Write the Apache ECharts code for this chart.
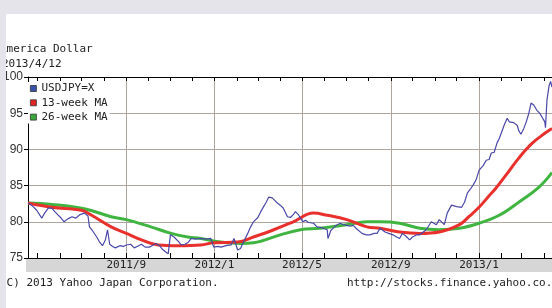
<!DOCTYPE html>
<html>
<head>
<meta charset="utf-8">
<script src="https://cdn.jsdelivr.net/npm/echarts@6/dist/echarts.min.js"></script>
<style>
  html, body { margin: 0; padding: 0; background: #fff; }
  #chart { position: absolute; left: 0; top: 0; width: 552px; height: 308px; background: #fff; }
  .strip { position: absolute; background: #e4e4ea; z-index: 5; }
</style>
</head>
<body>
<div id="chart"></div>
<div class="strip" style="left:0;top:0;width:552px;height:14px"></div>
<div class="strip" style="left:0;top:0;width:6px;height:308px"></div>
<script>
const titleText = 'America Dollar';
const dateText = '2013/4/12';
const copyText = '(C) 2013 Yahoo Japan Corporation.';
const urlText = 'http://stocks.finance.yahoo.co.jp/';
const seriesNames = ['USDJPY=X', '13-week MA', '26-week MA'];
const xLabels = ['2011/9', '2012/1', '2012/5', '2012/9', '2013/1'];
const xStart = '2011-04-18';
const xEnd = '2013-04-12';

// USDJPY=X
const priceDates = [
  '2011-04-18','2011-04-24','2011-04-30','2011-05-07','2011-05-11','2011-05-16','2011-05-21','2011-05-25',
  '2011-05-29','2011-06-02','2011-06-07','2011-06-12','2011-06-18','2011-06-23','2011-06-29','2011-07-05',
  '2011-07-10','2011-07-12','2011-07-16','2011-07-22','2011-07-26','2011-07-30','2011-08-03','2011-08-06',
  '2011-08-09','2011-08-13','2011-08-17','2011-08-23','2011-08-28','2011-09-01','2011-09-07','2011-09-12',
  '2011-09-18','2011-09-22','2011-09-27','2011-10-03','2011-10-08','2011-10-12','2011-10-17','2011-10-21',
  '2011-10-26','2011-10-29','2011-11-01','2011-11-06','2011-11-12','2011-11-16','2011-11-21','2011-11-25',
  '2011-11-30','2011-12-06','2011-12-13','2011-12-20','2011-12-27','2011-12-31','2012-01-06','2012-01-10',
  '2012-01-17','2012-01-24','2012-01-28','2012-02-02','2012-02-06','2012-02-12','2012-02-16','2012-02-20',
  '2012-02-24','2012-03-01','2012-03-05','2012-03-09','2012-03-12','2012-03-16','2012-03-21','2012-03-25',
  '2012-03-28','2012-04-01','2012-04-05','2012-04-11','2012-04-15','2012-04-19','2012-04-22','2012-04-26',
  '2012-05-02','2012-05-06','2012-05-10','2012-05-17','2012-05-22','2012-05-28','2012-06-02','2012-06-05',
  '2012-06-06','2012-06-10','2012-06-13','2012-06-17','2012-06-23','2012-06-28','2012-07-02','2012-07-07',
  '2012-07-11','2012-07-16','2012-07-23','2012-07-29','2012-08-03','2012-08-09','2012-08-13','2012-08-17',
  '2012-08-24','2012-08-29','2012-09-04','2012-09-09','2012-09-13','2012-09-17','2012-09-22','2012-09-27',
  '2012-10-01','2012-10-07','2012-10-11','2012-10-16','2012-10-20','2012-10-27','2012-11-03','2012-11-07',
  '2012-11-14','2012-11-18','2012-11-24','2012-12-01','2012-12-08','2012-12-12','2012-12-16','2012-12-20',
  '2012-12-24','2012-12-28','2013-01-01','2013-01-07','2013-01-11','2013-01-15','2013-01-18','2013-01-22',
  '2013-01-26','2013-01-29','2013-02-01','2013-02-05','2013-02-09','2013-02-12','2013-02-14','2013-02-18',
  '2013-02-23','2013-02-25','2013-02-28','2013-03-04','2013-03-07','2013-03-11','2013-03-14','2013-03-18',
  '2013-03-22','2013-03-26','2013-03-29','2013-04-02','2013-04-03','2013-04-05','2013-04-08','2013-04-10',
  '2013-04-12'
];
const priceValues = [
  82.6, 82.2, 81.6, 80.5, 81.2, 81.9, 81.9, 81.4,
  81.0, 80.6, 80.0, 80.4, 80.7, 80.5, 81.0, 81.2,
  80.8, 79.3, 78.8, 77.9, 77.2, 76.7, 77.5, 78.9,
  76.9, 76.6, 76.4, 76.7, 76.6, 76.8, 76.9, 76.4,
  76.7, 76.9, 76.5, 76.5, 76.8, 77.0, 76.7, 76.2,
  75.8, 75.6, 78.2, 77.9, 77.3, 76.8, 76.9, 77.1,
  77.7, 77.6, 77.7, 77.6, 77.7, 76.5, 76.6, 76.5,
  76.7, 76.8, 77.7, 76.1, 76.3, 77.6, 78.4, 79.3,
  80.0, 80.6, 81.4, 82.1, 82.6, 83.4, 83.3, 82.9,
  82.6, 82.3, 81.9, 80.7, 80.6, 81.0, 81.4, 81.0,
  80.0, 80.2, 79.9, 79.8, 79.3, 79.2, 79.0, 78.9,
  77.7, 78.8, 79.1, 79.5, 79.8, 79.6, 79.5, 79.4,
  79.5, 79.0, 78.4, 78.2, 78.2, 78.4, 78.4, 79.1,
  78.6, 78.4, 78.2, 77.9, 77.7, 78.4, 78.0, 77.5,
  77.9, 78.2, 78.2, 78.6, 78.9, 80.0, 79.6, 80.3,
  79.6, 81.2, 82.3, 82.1, 82.0, 82.7, 84.0, 84.5,
  85.1, 85.8, 87.1, 87.8, 88.5, 88.6, 89.5, 89.6,
  90.9, 91.5, 92.3, 93.4, 94.3, 93.8, 93.6, 93.7,
  93.3, 92.6, 92.1, 92.9, 93.7, 95.0, 96.4, 96.1,
  95.4, 95.0, 94.5, 93.8, 93.0, 96.8, 98.8, 99.4,
  98.6
];

// 13-week MA
const ma13Dates = [
  '2011-04-18','2011-05-21','2011-07-01','2011-07-15','2011-08-11','2011-09-01','2011-09-22','2011-10-15',
  '2011-11-12','2011-12-13','2011-12-31','2012-02-02','2012-02-24','2012-03-23','2012-04-19','2012-05-17',
  '2012-06-05','2012-07-02','2012-07-30','2012-08-17','2012-09-13','2012-10-11','2012-11-07','2012-12-05',
  '2012-12-18','2013-01-01','2013-01-15','2013-01-24','2013-02-07','2013-02-25','2013-03-15','2013-04-03',
  '2013-04-12'
];
const ma13Values = [
  82.6, 82.0, 81.6, 80.9, 79.3, 78.4, 77.5, 76.8,
  76.7, 76.8, 77.1, 77.2, 77.9, 78.9, 80.0, 81.2,
  80.9, 80.3, 79.3, 79.1, 78.6, 78.4, 78.6, 79.6,
  80.7, 82.0, 83.6, 84.6, 86.4, 88.8, 90.8, 92.3,
  92.9
];

// 26-week MA
const ma26Dates = [
  '2011-04-18','2011-05-21','2011-07-05','2011-08-11','2011-09-01','2011-10-05','2011-11-02','2011-11-25',
  '2011-12-13','2012-01-10','2012-02-06','2012-02-24','2012-04-01','2012-04-29','2012-05-26','2012-07-02',
  '2012-07-30','2012-08-17','2012-09-13','2012-10-11','2012-11-07','2012-12-05','2013-01-01','2013-01-29',
  '2013-02-25','2013-03-25','2013-04-12'
];
const ma26Values = [
  82.6, 82.4, 81.8, 80.7, 80.3, 79.3, 78.4, 77.9,
  77.7, 77.2, 77.0, 77.1, 78.2, 78.9, 79.1, 79.6,
  80.0, 80.0, 79.8, 79.1, 78.9, 79.1, 79.8, 80.9,
  82.7, 84.8, 86.8
];

const mono = '"DejaVu Sans Mono", "Liberation Mono", monospace';

function toTime(s) {
  const p = s.split(/[-\/]/).map(Number);
  return Date.UTC(p[0], p[1] - 1, p[2] || 1);
}
function pairs(dates, values) {
  return dates.map((d, i) => [toTime(d), values[i]]);
}

// a tick at the start of every month, a grid line at each labelled month
const monthTicks = [];
for (let i = 4; i <= 27; i++) monthTicks.push(Date.UTC(2011, i, 1));
const labelTicks = xLabels.map(toTime);

const xMin = toTime(xStart);
const xMax = toTime(xEnd);

let myChart = echarts.init(document.getElementById('chart'));
let option = {
  animation: false,
  title: [
    {
      text: titleText,
      left: 0,
      top: 43,
      padding: 0,
      textStyle: { fontFamily: mono, fontSize: 11, fontWeight: 'normal', color: '#222', lineHeight: 13 },
    },
    {
      text: dateText,
      left: 2,
      top: 58,
      padding: 0,
      textStyle: { fontFamily: mono, fontSize: 11, fontWeight: 'normal', color: '#222', lineHeight: 13 },
    },
  ],
  legend: {
    orient: 'vertical',
    left: 28,
    top: 82,
    padding: [0, 2],
    itemGap: 1.3,
    itemWidth: 6,
    itemHeight: 6,
    icon: 'rect',
    backgroundColor: '#fff',
    itemStyle: { borderColor: '#333', borderWidth: 0.8 },
    textStyle: { fontFamily: mono, fontSize: 11, color: '#222', lineHeight: 13 },
    data: seriesNames,
  },
  grid: { left: 26, top: 77, width: 528, height: 181 },
  xAxis: [
    {
      type: 'value',
      min: xMin,
      max: xMax,
      position: 'bottom',
      axisLine: { show: true, lineStyle: { color: '#000', width: 1 } },
      axisTick: { show: true, inside: true, length: 5, customValues: monthTicks, lineStyle: { color: '#000' } },
      axisLabel: {
        customValues: labelTicks,
        margin: 2,
        fontFamily: mono,
        fontSize: 11,
        color: '#222',
        formatter: (v) => {
          let d = new Date(v);
          return d.getUTCFullYear() + '/' + (d.getUTCMonth() + 1);
        },
      },
      splitLine: { show: false },
    },
    {
      type: 'value',
      min: xMin,
      max: xMax,
      position: 'top',
      axisLine: { show: true, lineStyle: { color: '#000', width: 1 } },
      axisTick: { show: true, inside: true, length: 4, customValues: monthTicks, lineStyle: { color: '#000' } },
      axisLabel: { show: false },
      splitLine: { show: false },
    },
    {
      type: 'value',
      min: xMin,
      max: xMax,
      axisLine: { show: false },
      axisTick: { show: false, customValues: labelTicks },
      axisLabel: { show: false },
      splitLine: { show: true, lineStyle: { color: '#aea59f', width: 1 } },
    },
  ],
  yAxis: {
    type: 'value',
    min: 75,
    max: 100,
    interval: 5,
    axisLine: { show: true, lineStyle: { color: '#000', width: 1 } },
    axisTick: { show: true, length: 4, lineStyle: { color: '#000' } },
    axisLabel: { margin: 5, fontFamily: '"Liberation Sans", Arial, sans-serif', fontSize: 12, color: '#333' },
    splitLine: { show: true, lineStyle: { color: '#aea59f', width: 1 } },
  },
  graphic: [
    { type: 'rect', z: -1, shape: { x: 26, y: 259, width: 528, height: 13 }, style: { fill: '#d6d6d6' } },
    { type: 'text', x: 0, y: 283, style: { text: copyText, font: '11px ' + mono, fill: '#222', verticalAlign: 'middle' } },
    { type: 'text', x: 347, y: 283, style: { text: urlText, font: '11px ' + mono, fill: '#222', verticalAlign: 'middle' } },
  ],
  series: [
    {
      name: seriesNames[0],
      type: 'line',
      showSymbol: false,
      z: 4,
      itemStyle: { color: '#3553ab' },
      lineStyle: { color: '#4a48a8', width: 1.2 },
      data: pairs(priceDates, priceValues),
    },
    {
      name: seriesNames[1],
      type: 'line',
      showSymbol: false,
      smooth: 0.4,
      z: 3,
      itemStyle: { color: '#e02424' },
      lineStyle: { color: '#e8302c', width: 3 },
      data: pairs(ma13Dates, ma13Values),
    },
    {
      name: seriesNames[2],
      type: 'line',
      showSymbol: false,
      smooth: 0.4,
      z: 2,
      itemStyle: { color: '#3aa83a' },
      lineStyle: { color: '#40b440', width: 3 },
      data: pairs(ma26Dates, ma26Values),
    },
  ],
};
myChart.setOption(option);
</script>
</body>
</html>
